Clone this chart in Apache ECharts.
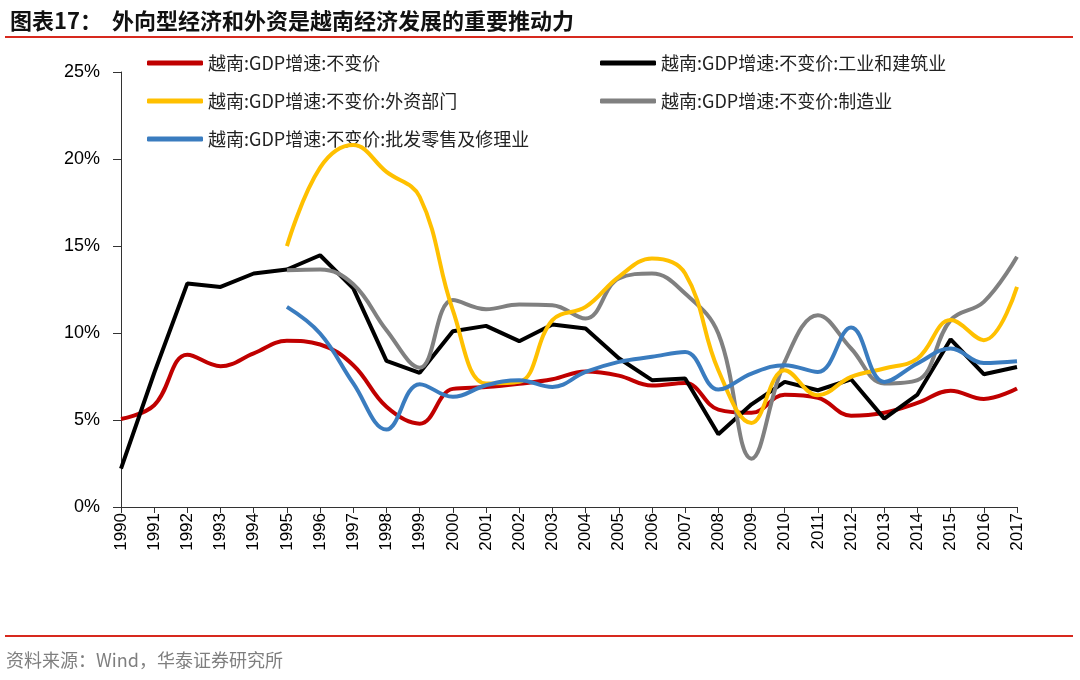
<!DOCTYPE html>
<html>
<head>
<meta charset="utf-8">
<script src="https://cdn.jsdelivr.net/npm/echarts@6/dist/echarts.min.js"></script>
<style>
html,body{margin:0;padding:0;background:#fff;}
#c{width:1080px;height:680px;}
</style>
</head>
<body>
<div id="c"></div>
<script>
const years = ['1990','1991','1992','1993','1994','1995','1996','1997','1998','1999','2000','2001','2002','2003','2004','2005','2006','2007','2008','2009','2010','2011','2012','2013','2014','2015','2016','2017'];
const yTicks = [0, 5, 10, 15, 20, 25];
const seriesNames = ['越南:GDP增速:不变价','越南:GDP增速:不变价:工业和建筑业','越南:GDP增速:不变价:外资部门','越南:GDP增速:不变价:制造业','越南:GDP增速:不变价:批发零售及修理业'];
const gdpTotal = [5.06,5.85,8.75,8.09,8.83,9.55,9.34,8.15,5.76,4.79,6.79,6.89,7.08,7.34,7.79,7.55,6.98,7.13,5.6,5.41,6.45,6.28,5.25,5.42,5.98,6.68,6.21,6.81];
const industry = [2.21,7.7,12.85,12.65,13.42,13.65,14.47,12.56,8.4,7.71,10.1,10.41,9.53,10.49,10.26,8.55,7.29,7.38,4.18,5.9,7.19,6.71,7.34,5.08,6.46,9.64,7.63,8.05];
const fdi = [null,null,null,null,null,14.99,19.5,20.8,19.26,17.83,11.31,7.1,7.19,10.74,11.5,13.23,14.28,13.42,7.86,4.83,7.86,6.42,7.48,7.96,8.53,10.74,9.59,12.65];
const manufacturing = [null,null,null,null,null,13.61,13.65,12.8,10.16,8.01,11.89,11.37,11.64,11.6,10.83,13.13,13.42,12.27,9.97,2.78,8.34,11.02,9.11,7.1,7.29,10.74,11.79,14.38];
const retail = [null,null,null,null,null,11.5,9.97,7.1,4.45,7.06,6.33,7.0,7.29,6.9,7.76,8.34,8.63,8.91,6.75,7.67,8.15,7.76,10.32,7.19,8.25,9.11,8.28,8.38];

const colors = ['#C00000','#000000','#FFC000','#808080','#3A7CBF'];
const dataSets = [gdpTotal, industry, fdi, manufacturing, retail];
const smoothFlags = [0.4, false, 0.4, 0.4, 0.4];

const chart = echarts.init(document.getElementById('c'), null, {renderer:'canvas'});
const cjk = '"Noto Sans CJK SC", "Noto Sans", sans-serif';
const legendText = {fontSize:18, color:'#222', fontFamily:cjk, lineHeight:20};

const option = {
  backgroundColor:'#fff',
  animation:false,
  title:{
    text:'图表17：  外向型经济和外资是越南经济发展的重要推动力',
    left:5, top:5,
    textStyle:{fontSize:22, fontWeight:'bold', color:'#111', fontFamily:cjk}
  },
  graphic:[
    {type:'rect', shape:{x:5,y:36,width:1068,height:2}, style:{fill:'#D7291E'}},
    {type:'rect', shape:{x:5,y:635,width:1068,height:2}, style:{fill:'#D7291E'}},
    {type:'text', left:6, top:651, style:{text:'资料来源：Wind，华泰证券研究所', fontSize:18, fill:'#7f7f7f', fontFamily:cjk}}
  ],
  legend:[
    {
      data:[seriesNames[0], seriesNames[2], seriesNames[4]],
      orient:'vertical', left:147, top:53, itemGap:18, padding:0,
      itemWidth:56, itemHeight:5, icon:'roundRect',
      textStyle:legendText
    },
    {
      data:[seriesNames[1], seriesNames[3]],
      orient:'vertical', left:600, top:53, itemGap:18, padding:0,
      itemWidth:56, itemHeight:5, icon:'roundRect',
      textStyle:legendText
    }
  ],
  grid:{left:121, right:63, top:72, bottom:173, containLabel:false},
  xAxis:{
    type:'category', data:years, boundaryGap:false,
    axisLine:{lineStyle:{color:'#333', width:1}},
    axisTick:{show:true, inside:false, length:6, lineStyle:{color:'#333'}},
    axisLabel:{rotate:90, fontSize:17, color:'#000', margin:6, fontFamily:'Arial, "Liberation Sans", sans-serif'},
    splitLine:{show:false}
  },
  yAxis:{
    type:'value', min:yTicks[0], max:yTicks[yTicks.length-1], interval:5,
    axisLine:{show:true, lineStyle:{color:'#333', width:1}},
    axisTick:{show:true, inside:false, length:8, lineStyle:{color:'#333'}},
    axisLabel:{formatter:'{value}%', fontSize:18, color:'#000', margin:21, fontFamily:'Arial, "Liberation Sans", sans-serif'},
    splitLine:{show:false}
  },
  series: seriesNames.map((n,i)=>({
    name:n, type:'line', data:dataSets[i],
    smooth:smoothFlags[i], showSymbol:false, symbol:'none',
    connectNulls:false,
    lineStyle:{color:colors[i], width:4},
    itemStyle:{color:colors[i]},
    z: [2,3,4,3,5][i]
  }))
};
chart.setOption(option);
</script>
</body>
</html>
